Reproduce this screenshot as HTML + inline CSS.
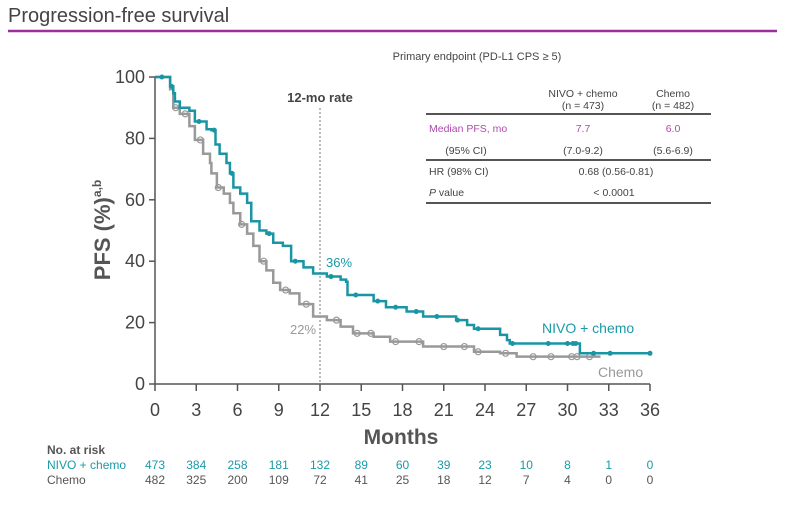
<!DOCTYPE html>
<html><head><meta charset="utf-8"><style>
body{margin:0;background:#fff;width:785px;height:512px;overflow:hidden;font-family:"Liberation Sans",sans-serif}
</style></head><body>
<svg id="chart" width="785" height="512" viewBox="0 0 785 512" xmlns="http://www.w3.org/2000/svg" font-family="Liberation Sans, sans-serif">
<text x="8" y="22" font-size="20" fill="#444">Progression-free survival</text>
<line x1="8" y1="31" x2="777" y2="31" stroke="#9b2f9b" stroke-width="2.5"/>
<text x="477" y="60" font-size="11" fill="#444" text-anchor="middle">Primary endpoint (PD-L1 CPS ≥ 5)</text>
<g id="axes"></g>
<g id="curves"></g>
<text transform="translate(110,230) rotate(-90)" text-anchor="middle" font-size="22" font-weight="bold" fill="#555">PFS (%)<tspan font-size="12" dy="-9">a,b</tspan></text>
<text x="401" y="444" text-anchor="middle" font-size="21" font-weight="bold" fill="#555">Months</text>
<text x="320" y="102" text-anchor="middle" font-size="13" font-weight="bold" fill="#444">12-mo rate</text>
<text x="326" y="267" font-size="13" fill="#1a9aa8">36%</text>
<text x="290" y="334" font-size="13" fill="#999">22%</text>
<text x="542" y="333" font-size="14" fill="#1a9aa8">NIVO + chemo</text>
<text x="598" y="377" font-size="14" fill="#999">Chemo</text>
<g font-size="10.5" fill="#444" text-anchor="middle">
<text x="583" y="97">NIVO + chemo</text><text x="583" y="109">(n = 473)</text>
<text x="673" y="97">Chemo</text><text x="673" y="109">(n = 482)</text>
<line x1="426" y1="114" x2="711" y2="114" stroke="#555" stroke-width="2"/>
<text x="429" y="132" text-anchor="start" fill="#b04ab0">Median PFS, mo</text><text x="583" y="132" fill="#b04ab0">7.7</text><text x="673" y="132" fill="#b04ab0">6.0</text>
<text x="466" y="154">(95% CI)</text><text x="583" y="154">(7.0-9.2)</text><text x="673" y="154">(5.6-6.9)</text>
<line x1="426" y1="160" x2="711" y2="160" stroke="#555" stroke-width="2"/>
<text x="429" y="175" text-anchor="start">HR (98% CI)</text><text x="616" y="175">0.68 (0.56-0.81)</text>
<text x="429" y="196" text-anchor="start"><tspan font-style="italic">P</tspan> value</text><text x="614" y="196">&lt; 0.0001</text>
<line x1="426" y1="203" x2="711" y2="203" stroke="#555" stroke-width="2"/>
</g>
<g id="risk" font-size="12"></g>
</svg>
<script>
const xTicks=[0,3,6,9,12,15,18,21,24,27,30,33,36];
const yTicks=[0,20,40,60,80,100];
const nivoMonths=[0,1.1,1.33,1.45,1.8,2.5,2.9,3.75,4.1,4.4,4.7,5.2,5.45,5.7,6.2,6.7,7,7.6,8.1,8.6,9.3,9.9,10.8,11.5,12.5,13.5,13.9,14,15.9,16.8,18.3,19.5,21.9,22.7,23.2,24.6,25.1,25.6,25.8,30.9,36];
const nivoPFS=[100,97,94.7,92,90,89,85.5,83,82.7,78,75,72,68.6,64,62,59,53,50,49,46,45,40,38,36,35,34,33.3,29,27,25,23.6,22,20.8,19.2,18,18,16,14.3,13.2,10,10];
const chemoMonths=[0,1.1,1.33,1.8,2.5,2.9,3.5,4,4.1,4.5,5,5.45,5.7,6.2,6.7,7.15,7.6,8.1,8.6,9.1,9.8,10.5,11.5,12.5,13.5,14.4,15.9,17.1,19.5,23.2,25.1,26.3,32.4];
const chemoPFS=[100,96,90,88,84,79.5,75,72,68.6,64,62,59,55.6,52,49,45,40,37,33,30.6,29.5,26,22,20.8,18.7,16.5,15.4,13.8,12.2,10.5,10,8.9,8.9];
const nivoCensorMonths=[0.5,1.2,3.2,4.3,5.6,8.3,10.2,12.8,14.6,16.2,17.5,19,20.5,22,23.5,26,28.6,30,30.4,30.6,31.9,33.1,36];
const chemoCensorMonths=[1.5,2.2,3.3,4.6,6.3,7.9,9.5,11,13.2,14.7,15.7,17.5,19.2,21,22.5,23.5,25.5,27.5,28.8,30.3,30.7,31.6];
const nivoRisk=[473,384,258,181,132,89,60,39,23,10,8,1,0];
const chemoRisk=[482,325,200,109,72,41,25,18,12,7,4,0,0];
const NS="http://www.w3.org/2000/svg";
const X=m=>155+m*(495/36), Y=p=>384-p*3.07;
function mk(t,a,parent){const e=document.createElementNS(NS,t);for(const k in a)e.setAttribute(k,a[k]);parent.appendChild(e);return e;}
const ax=document.getElementById('axes');
let e=mk('line',{x1:155,y1:Y(0),x2:X(36),y2:Y(0),stroke:'#555','stroke-width':1.5},ax);


e=mk('line',{x1:155,y1:Y(0),x2:155,y2:Y(100),stroke:'#555','stroke-width':1.5},ax);


xTicks.forEach(t=>{mk('line',{x1:X(t),y1:Y(0),x2:X(t),y2:Y(0)+7,stroke:'#555','stroke-width':1.5},ax);
 const l=mk('text',{x:X(t),y:416,'text-anchor':'middle','font-size':18,fill:'#444'},ax);l.textContent=t;
 
 });
yTicks.forEach(t=>{mk('line',{x1:149,y1:Y(t),x2:155,y2:Y(t),stroke:'#555','stroke-width':1.5},ax);
 const l=mk('text',{x:145,y:Y(t)+6,'text-anchor':'end','font-size':18,fill:'#444'},ax);l.textContent=t;
 
 });
e=mk('line',{x1:X(12),y1:108,x2:X(12),y2:Y(0),stroke:'#777','stroke-width':1,'stroke-dasharray':'2,2'},ax);


function stepPath(ms,ps){let d='M'+X(ms[0])+','+Y(ps[0]);for(let i=1;i<ms.length;i++){d+=' H'+X(ms[i])+' V'+Y(ps[i]);}return d;}
function valAt(ms,ps,m){let v=ps[0];for(let i=0;i<ms.length;i++){if(ms[i]<=m)v=ps[i];}return v;}
const cv=document.getElementById('curves');
e=mk('path',{d:stepPath(chemoMonths,chemoPFS),fill:'none',stroke:'#999','stroke-width':2.5},cv);


chemoCensorMonths.forEach(m=>{const c=mk('circle',{cx:X(m),cy:Y(valAt(chemoMonths,chemoPFS,m)),r:3,fill:'none',stroke:'#999','stroke-width':1.2},cv);
 
 });
e=mk('path',{d:stepPath(nivoMonths,nivoPFS),fill:'none',stroke:'#1a95a3','stroke-width':2.5},cv);


nivoCensorMonths.forEach(m=>{const c=mk('circle',{cx:X(m),cy:Y(valAt(nivoMonths,nivoPFS,m)),r:2.5,fill:'#1a95a3'},cv);
 
 });
const rk=document.getElementById('risk');
let t=mk('text',{x:47,y:454,'font-weight':'bold',fill:'#555'},rk);t.textContent='No. at risk';


t=mk('text',{x:47,y:469,fill:'#1a9aa8'},rk);t.textContent='NIVO + chemo';


t=mk('text',{x:47,y:484,fill:'#555'},rk);t.textContent='Chemo';


xTicks.forEach((m,i)=>{let a=mk('text',{x:X(m),y:469,'text-anchor':'middle',fill:'#1a9aa8'},rk);a.textContent=nivoRisk[i];
 
 
 let b=mk('text',{x:X(m),y:484,'text-anchor':'middle',fill:'#555'},rk);b.textContent=chemoRisk[i];
 
 });
</script>
</body></html>
